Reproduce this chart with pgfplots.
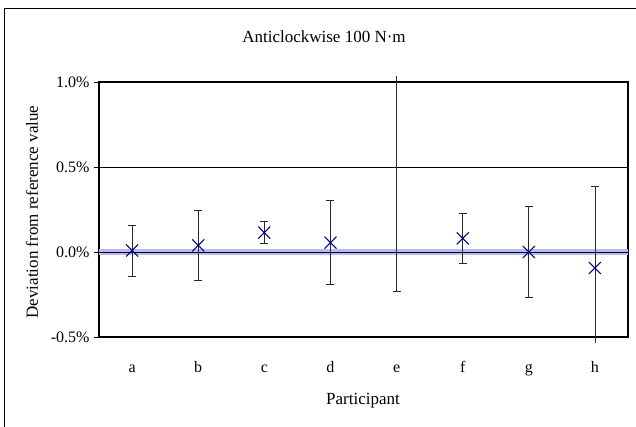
\documentclass[border=0pt]{standalone}
\usepackage{pgfplots}
\pgfplotsset{compat=1.18}
\usepackage{fontspec}
\setmainfont{Liberation Serif}

\definecolor{marknavy}{RGB}{0,0,128}
\definecolor{bandblue}{RGB}{185,185,245}
\definecolor{bargray}{RGB}{40,40,40}

\newcommand{\tickfont}{\fontsize{16bp}{19bp}\selectfont}
\newcommand{\labelfont}{\fontsize{17bp}{20bp}\selectfont}

\begin{document}
\begin{tikzpicture}[x=1bp,y=1bp]
\useasboundingbox (0,0) rectangle (636,426);
% chart frame
\draw[black, line width=1bp] (4.7,-10) rectangle (660,417.7);

\begin{axis}[
  at={(99bp,89bp)}, anchor=south west,
  scale only axis, width=529bp, height=255bp,
  xmin=0.5, xmax=8.5, ymin=-0.5, ymax=1.0,
  clip=false,
  axis line style={black, line width=1.2bp},
  xtick={1,...,8},
  xticklabels={a,b,c,d,e,f,g,h},
  xtick style={draw=none},
  ytick={-0.5,0,0.5,1.0},
  yticklabels={-0.5\%,0.0\%,0.5\%,1.0\%},
  ytick pos=left, tick align=outside,
  major tick length=5bp,
  ytick style={black, line width=0.8bp},
  ymajorgrids, grid style={black, line width=0.8bp},
  every tick label/.append style={font=\tickfont},
  xticklabel style={anchor=base, yshift=-30bp},
  yticklabel style={xshift=-1bp},
]
% reference band (+/- 0.02 %)
\addplot[fill=bandblue, draw=none, forget plot]
  coordinates {(0.5,-0.02) (8.5,-0.02) (8.5,0.02) (0.5,0.02)} -- cycle;
\addplot[black, line width=0.8bp, forget plot]
  coordinates {(0.5,0) (8.5,0)};

% participants with expanded uncertainty
\addplot[only marks, mark=x, mark size=8.5bp, marknavy, line width=1.1bp,
  error bars/.cd, y dir=both, y explicit,
  error bar style={bargray, line width=0.9bp},
  error mark options={mark=-, mark size=4bp, bargray, line width=0.9bp, rotate=90}]
  coordinates {
    (1,0.009) +- (0,0.150)
    (2,0.039) +- (0,0.205)
    (3,0.114) +- (0,0.066)
    (4,0.055) +- (0,0.247)
    (6,0.080) +- (0,0.149)
    (7,0.000) +- (0,0.268)
  };

% participant e: lower bound only within range
\addplot[bargray, line width=0.9bp, forget plot]
  coordinates {(5,-0.232) (5,1.035)};
\addplot[only marks, mark=-, mark size=4bp, bargray, line width=0.9bp, forget plot]
  coordinates {(5,-0.232)};

% participant h: lower bound runs past the axis
\addplot[bargray, line width=0.9bp, forget plot]
  coordinates {(8,0.386) (8,-0.535)};
\addplot[only marks, mark=-, mark size=4bp, bargray, line width=0.9bp, forget plot]
  coordinates {(8,0.386)};
\addplot[only marks, mark=x, mark size=8.5bp, marknavy, line width=1.1bp, forget plot]
  coordinates {(8,-0.094)};
\end{axis}

\node[font=\labelfont] at (324,389) {Anticlockwise 100 N·m};
\node[font=\labelfont] at (363,25) {Participant};
\node[font=\labelfont, rotate=90] at (32,214) {Deviation from reference value};
\end{tikzpicture}
\end{document}
